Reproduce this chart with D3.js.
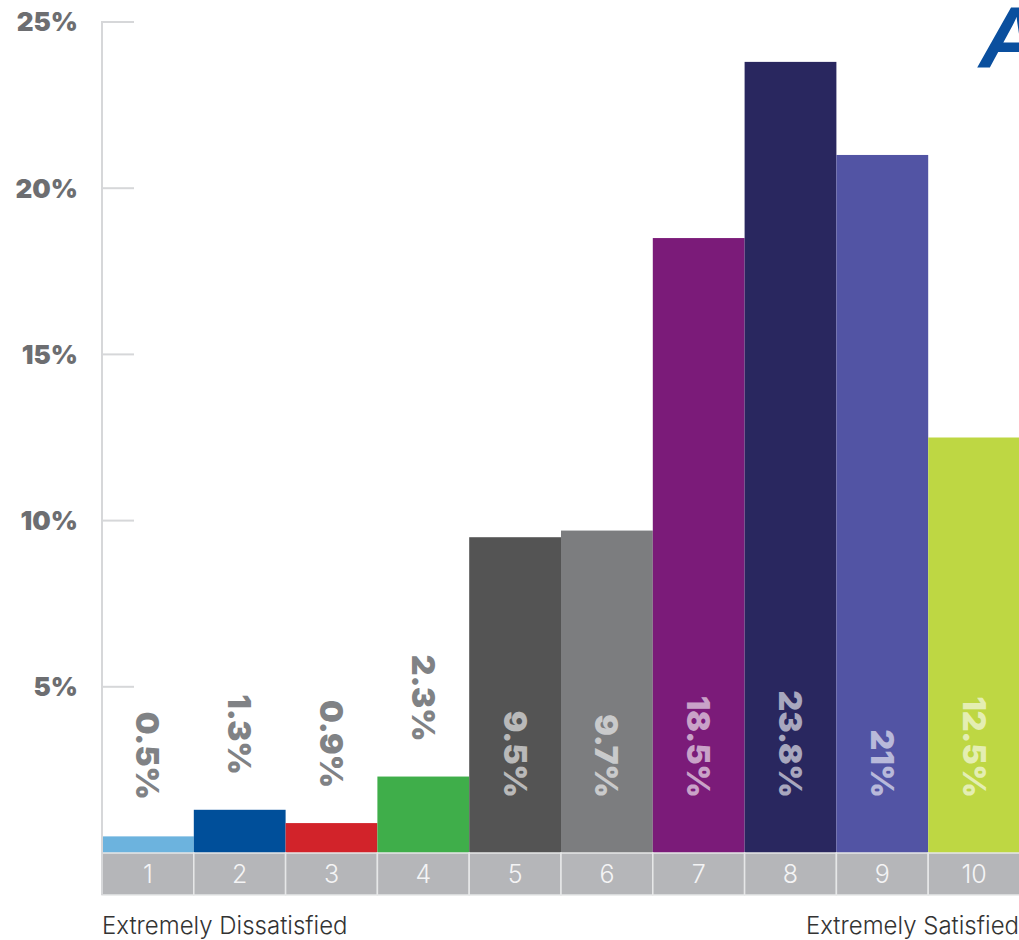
<!DOCTYPE html>
<html>
<head>
<meta charset="utf-8">
<script src="https://cdn.jsdelivr.net/npm/d3@7"></script>
<style>
  html, body { margin: 0; padding: 0; background: #fff; }
  svg { display: block; }
</style>
</head>
<body>
<svg id="chart" width="1019" height="940"></svg>
<script>
// Satisfaction score distribution (1 = extremely dissatisfied, 10 = extremely satisfied)
const categories = ["1", "2", "3", "4", "5", "6", "7", "8", "9", "10"];
const values = [0.5, 1.3, 0.9, 2.3, 9.5, 9.7, 18.5, 23.8, 21, 12.5];
const valueLabels = ["0.5%", "1.3%", "0.9%", "2.3%", "9.5%", "9.7%", "18.5%", "23.8%", "21%", "12.5%"];
const barColors = ["#6cb3de", "#004f9a", "#d2232a", "#3fae4a", "#545454", "#7c7d7f", "#7b1b79", "#29275f", "#5254a4", "#bed743"];
const yTicks = [5, 10, 15, 20, 25];
const leftCaption = "Extremely Dissatisfied";
const rightCaption = "Extremely Satisfied";

const svg = d3.select("#chart");
const x0 = 102, x1 = 1020, yBase = 853, yTop = 22, bandH = 42;

const x = d3.scaleBand().domain(categories).range([x0, x1]).padding(0);
const y = d3.scaleLinear().domain([0, 25]).range([yBase, yTop]);

// Bars
svg.append("g").selectAll("rect")
  .data(values)
  .join("rect")
  .attr("x", (d, i) => x(categories[i]))
  .attr("width", x.bandwidth())
  .attr("y", d => y(d))
  .attr("height", d => yBase - y(d))
  .attr("fill", (d, i) => barColors[i]);

// Category strip under the bars
const strip = svg.append("g");
strip.selectAll("rect")
  .data(categories)
  .join("rect")
  .attr("x", d => x(d))
  .attr("y", yBase)
  .attr("width", x.bandwidth())
  .attr("height", bandH)
  .attr("fill", "#b5b6b9")
  .attr("stroke", "#e6e7e8")
  .attr("stroke-width", 1.5);
strip.selectAll("text")
  .data(categories)
  .join("text")
  .attr("x", d => x(d) + x.bandwidth() / 2)
  .attr("y", yBase + bandH / 2 + 9)
  .attr("text-anchor", "middle")
  .attr("font-family", "Inter, 'Noto Sans', sans-serif")
  .attr("font-weight", 300)
  .attr("font-size", 25)
  .attr("fill", "#f4f4f5")
  .text(d => d);

// Y axis line with short ticks
const axis = svg.append("g");
axis.append("line")
  .attr("x1", x0).attr("x2", x0)
  .attr("y1", yTop - 1).attr("y2", yBase + bandH)
  .attr("stroke", "#d6d7d9").attr("stroke-width", 2);
axis.selectAll("line.tick")
  .data(yTicks)
  .join("line")
  .attr("class", "tick")
  .attr("x1", x0).attr("x2", x0 + 32)
  .attr("y1", d => y(d)).attr("y2", d => y(d))
  .attr("stroke", "#d6d7d9").attr("stroke-width", 2);
axis.selectAll("text")
  .data(yTicks)
  .join("text")
  .attr("x", 78)
  .attr("y", d => y(d))
  .attr("dy", "0.36em")
  .attr("text-anchor", "end")
  .attr("font-family", "Inter, 'Noto Sans', sans-serif")
  .attr("font-weight", 900)
  .attr("font-size", 26)
  .attr("fill", "#6d6e71")
  .text(d => d + "%");

// Rotated value labels: inside tall bars, just above short ones
const labelFloor = 798;
const inside = d => y(d) + 95 < labelFloor;
const labelEnd = d => inside(d) ? labelFloor : Math.min(labelFloor + 2, y(d) - 35);
svg.append("g").selectAll("text")
  .data(values)
  .join("text")
  .attr("transform", (d, i) => `translate(${x(categories[i]) + x.bandwidth() / 2},${labelEnd(d)}) rotate(90)`)
  .attr("text-anchor", "end")
  .attr("dy", "0.36em")
  .attr("font-family", "Inter, 'Noto Sans', sans-serif")
  .attr("font-weight", 900)
  .attr("font-size", 32)
  .attr("fill", d => inside(d) ? "#ffffff" : "#808285")
  .attr("fill-opacity", d => inside(d) ? 0.6 : 1)
  .text((d, i) => valueLabels[i]);

// Scale captions
svg.append("text")
  .attr("x", x0).attr("y", 934)
  .attr("font-family", "Inter, 'Noto Sans', sans-serif")
  .attr("font-weight", 300)
  .attr("font-size", 24)
  .attr("fill", "#333")
  .text(leftCaption);
svg.append("text")
  .attr("x", 1019).attr("y", 934)
  .attr("text-anchor", "end")
  .attr("font-family", "Inter, 'Noto Sans', sans-serif")
  .attr("font-weight", 300)
  .attr("font-size", 24)
  .attr("fill", "#333")
  .text(rightCaption);

// Corner mark
svg.append("text")
  .attr("x", 979).attr("y", 67)
  .attr("font-family", "'Liberation Sans', Arial, sans-serif")
  .attr("font-weight", 700)
  .attr("font-style", "italic")
  .attr("font-size", 88)
  .attr("fill", "#0a4f9e")
  .text("A");
</script>
</body>
</html>
